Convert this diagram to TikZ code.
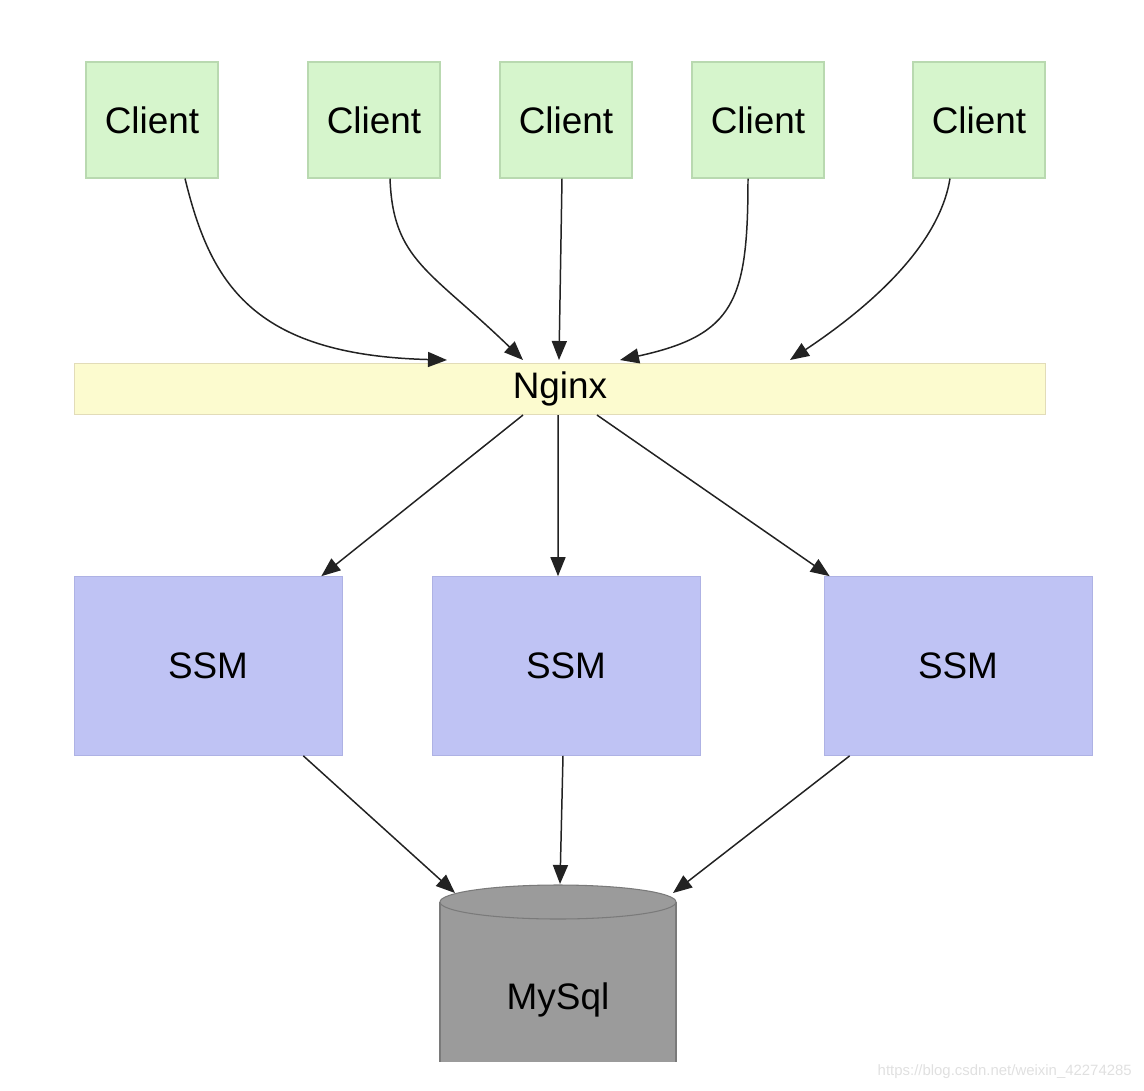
\documentclass[tikz,border=0pt]{standalone}
\usepackage{fontspec}
\setmainfont{Liberation Sans}
\usetikzlibrary{arrows.meta}
\definecolor{clientfill}{HTML}{D6F5CC}
\definecolor{clientline}{HTML}{B9D9B0}
\definecolor{nginxfill}{HTML}{FCFBCF}
\definecolor{nginxline}{HTML}{E2DCB8}
\definecolor{ssmfill}{HTML}{BFC3F4}
\definecolor{ssmline}{HTML}{AEB2E4}
\definecolor{dbfill}{HTML}{9B9B9B}
\definecolor{dbline}{HTML}{7A7A7A}
\definecolor{wire}{HTML}{222222}
\tikzset{link/.style={-{Triangle[length=0.38cm,width=0.3cm]}, line width=0.85pt, color=wire}, client/.style={draw=clientline, fill=clientfill, line width=0.6pt, minimum width=2.64cm, minimum height=2.32cm, font=\fontsize{21}{25}\selectfont}, proxy/.style={draw=nginxline, fill=nginxfill, line width=0.6pt, minimum width=19.42cm, minimum height=1.02cm, font=\fontsize{21}{25}\selectfont}, app/.style={draw=ssmline, fill=ssmfill, line width=0.4pt, minimum width=5.36cm, minimum height=3.58cm, font=\fontsize{21}{25}\selectfont}, wmark/.style={font=\fontsize{8.5}{10}\selectfont, text=black!12}}

\begin{document}
\begin{tikzpicture}[x=0.02cm,y=-0.02cm]
\useasboundingbox (0,0) rectangle (1144,1090);
% clients
\node[client] (c1) at (152,120) {Client};
\node[client] (c2) at (374,120) {Client};
\node[client] (c3) at (566,120) {Client};
\node[client] (c4) at (758,120) {Client};
\node[client] (c5) at (979,120) {Client};
% proxy and app servers
\node[proxy] (nginx) at (560,389) {Nginx};
\node[app] (s1) at (208,666) {SSM};
\node[app] (s2) at (566,666) {SSM};
\node[app] (s3) at (958,666) {SSM};
% database
\fill[dbfill] (440,902) -- (440,1062) -- (676,1062) -- (676,902) -- cycle;
\draw[dbline, line width=0.6pt] (440,902) -- (440,1062) (676,902) -- (676,1062);
\draw[dbline, fill=dbfill, line width=0.6pt] (558,902) ellipse (118 and 17);
\node[font=\fontsize{21}{25}\selectfont] (db) at (558,1000) {MySql};
\coordinate (n1) at (447,360);
\coordinate (n2) at (523,360);
\coordinate (n3) at (559,360);
\coordinate (n4) at (620,360);
\coordinate (n5) at (790,360);
\coordinate (d1) at (455,893);
\coordinate (d2) at (560,884);
\coordinate (d3) at (673,893);
% client -> nginx
\draw[link] ([xshift=0.66cm]c1.south) .. controls +(25,102) and (250,355) .. (n1);
\draw[link] ([xshift=0.32cm]c2.south) .. controls +(3,82) and (430,270) .. (n2);
\draw[link] ([xshift=-0.08cm]c3.south) -- (n3);
\draw[link] ([xshift=-0.2cm]c4.south) .. controls +(0,122) and (735,335) .. (n4);
\draw[link] ([xshift=-0.58cm]c5.south) .. controls +(-10,62) and (880,300) .. (n5);
% nginx -> ssm
\draw[link] ([xshift=-0.74cm]nginx.south) -- ([xshift=-0.42cm]s1.north east);
\draw[link] ([xshift=-0.04cm]nginx.south) -- ([xshift=-0.16cm]s2.north);
\draw[link] ([xshift=0.74cm]nginx.south) -- ([xshift=0.12cm]s3.north west);
% ssm -> mysql
\draw[link] ([xshift=-0.78cm]s1.south east) -- (d1);
\draw[link] ([xshift=-0.06cm]s2.south) -- (d2);
\draw[link] ([xshift=0.52cm]s3.south west) -- (d3);
\node[wmark, anchor=east] (wm) at (1138,1072) {https://blog.csdn.net/weixin\_42274285};
\end{tikzpicture}
\end{document}
